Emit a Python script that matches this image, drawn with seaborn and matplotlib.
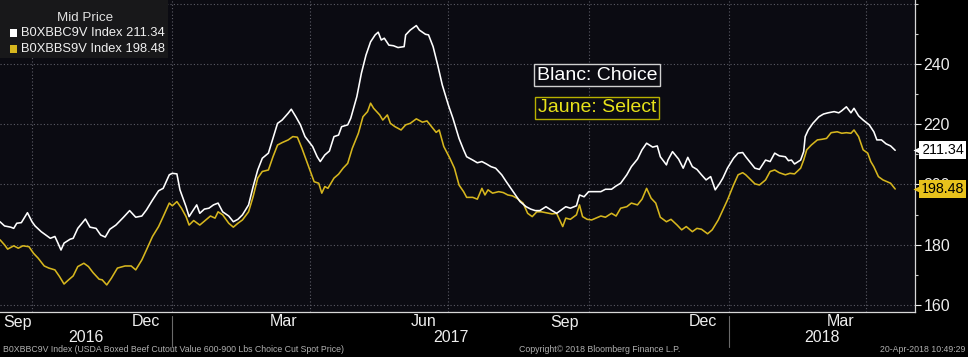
import matplotlib
matplotlib.use("Agg")
import matplotlib.pyplot as plt
import matplotlib.dates as mdates
import matplotlib.transforms as mtrans
from matplotlib.patches import Rectangle
import pandas as pd
import seaborn as sns

# ---------------- data ----------------
choice_dates = [
    "2016-09-10", "2016-09-13", "2016-09-17", "2016-09-19", "2016-09-21", "2016-09-24", "2016-09-28",
    "2016-10-01", "2016-10-03", "2016-10-07", "2016-10-10", "2016-10-13", "2016-10-16", "2016-10-18",
    "2016-10-20", "2016-10-22", "2016-10-26", "2016-10-28", "2016-10-31", "2016-11-05", "2016-11-08",
    "2016-11-12", "2016-11-15", "2016-11-18", "2016-11-21", "2016-11-25", "2016-11-30", "2016-12-04",
    "2016-12-06", "2016-12-08", "2016-12-12", "2016-12-15", "2016-12-19", "2016-12-23", "2016-12-26",
    "2016-12-30", "2017-01-01", "2017-01-04", "2017-01-06", "2017-01-10", "2017-01-12", "2017-01-14",
    "2017-01-17", "2017-01-19", "2017-01-22", "2017-01-25", "2017-01-28", "2017-01-31", "2017-02-03",
    "2017-02-07", "2017-02-10", "2017-02-13", "2017-02-16", "2017-02-20", "2017-02-23", "2017-02-26",
    "2017-03-01", "2017-03-05", "2017-03-08", "2017-03-11", "2017-03-14", "2017-03-18", "2017-03-20",
    "2017-03-23", "2017-03-26", "2017-03-29", "2017-04-03", "2017-04-06", "2017-04-08", "2017-04-11",
    "2017-04-14", "2017-04-17", "2017-04-20", "2017-04-22", "2017-04-26", "2017-04-28", "2017-05-02",
    "2017-05-05", "2017-05-08", "2017-05-11", "2017-05-14", "2017-05-16", "2017-05-18", "2017-05-20",
    "2017-05-23", "2017-05-26", "2017-05-29", "2017-06-02", "2017-06-03", "2017-06-06", "2017-06-10",
    "2017-06-12", "2017-06-16", "2017-06-18", "2017-06-21", "2017-06-24", "2017-06-27", "2017-07-01",
    "2017-07-04", "2017-07-08", "2017-07-11", "2017-07-13", "2017-07-17", "2017-07-20", "2017-07-23",
    "2017-07-26", "2017-07-29", "2017-08-01", "2017-08-05", "2017-08-08", "2017-08-11", "2017-08-14",
    "2017-08-17", "2017-08-21", "2017-08-24", "2017-08-27", "2017-08-30", "2017-09-03", "2017-09-07",
    "2017-09-10", "2017-09-13", "2017-09-16", "2017-09-19", "2017-09-23", "2017-09-25", "2017-09-28",
    "2017-10-01", "2017-10-04", "2017-10-09", "2017-10-12", "2017-10-16", "2017-10-19", "2017-10-22",
    "2017-10-26", "2017-10-29", "2017-11-02", "2017-11-05", "2017-11-08", "2017-11-12", "2017-11-15",
    "2017-11-17", "2017-11-21", "2017-11-22", "2017-11-25", "2017-11-29", "2017-12-02", "2017-12-05",
    "2017-12-08", "2017-12-11", "2017-12-14", "2017-12-17", "2017-12-20", "2017-12-23", "2017-12-26",
    "2017-12-28", "2017-12-31", "2018-01-04", "2018-01-07", "2018-01-10", "2018-01-12", "2018-01-18",
    "2018-01-21", "2018-01-25", "2018-01-28", "2018-01-31", "2018-02-03", "2018-02-07", "2018-02-09",
    "2018-02-11", "2018-02-13", "2018-02-17", "2018-02-19", "2018-02-20", "2018-02-22", "2018-02-25",
    "2018-03-01", "2018-03-04", "2018-03-07", "2018-03-11", "2018-03-14", "2018-03-16", "2018-03-19",
    "2018-03-22", "2018-03-24", "2018-03-27", "2018-03-30", "2018-04-03", "2018-04-06", "2018-04-08",
    "2018-04-11", "2018-04-14", "2018-04-17", "2018-04-20",
]
choice_values = [
    187.6, 186.2, 185.8, 185.4, 187.1, 187.3, 190.6,
    187.6, 186.2, 184.3, 183.2, 182.1, 182.7, 180.5,
    178.2, 180.5, 181.8, 182.1, 185.4, 188.5, 185.8,
    185.4, 183.2, 182.5, 185.1, 186.5, 189.1, 191.3,
    190.2, 189.1, 189.5, 191.5, 194.8, 197.9, 198.7,
    203.2, 203.7, 203.5, 198.2, 192.6, 189.3, 190.9,
    193.2, 190.4, 191.8, 192.1, 193.2, 193.8, 190.9,
    189.5, 187.6, 188.4, 189.9, 193.2, 199.3, 204.8,
    208.7, 210.4, 215.3, 220.3, 221.4, 223.7, 225.0,
    222.5, 219.8, 215.9, 212.6, 209.2, 207.6, 209.8,
    211.1, 215.9, 216.4, 219.2, 219.8, 222.0, 229.2,
    237.0, 243.0, 247.4, 249.7, 250.6, 248.0, 248.6,
    246.3, 246.1, 245.5, 245.8, 249.7, 251.3, 252.8,
    251.3, 249.9, 249.7, 245.8, 239.7, 233.1, 226.4,
    222.0, 215.3, 211.5, 209.2, 208.1, 207.2, 207.6,
    206.8, 205.9, 205.4, 203.2, 200.9, 198.7, 196.5,
    194.3, 192.6, 191.8, 191.3, 191.3, 192.6, 191.3,
    190.4, 191.5, 192.6, 192.1, 192.9, 196.5, 195.9,
    197.6, 197.6, 197.6, 198.4, 198.4, 199.5, 200.4,
    203.2, 205.9, 208.4, 211.5, 213.7, 212.4, 212.8,
    209.2, 206.5, 208.1, 210.9, 208.4, 205.4, 209.0,
    205.9, 205.0, 203.2, 201.5, 202.6, 198.2, 200.4,
    202.1, 205.4, 208.7, 210.4, 210.6, 209.2, 205.4,
    205.0, 208.1, 207.6, 210.4, 209.5, 209.2, 207.9,
    208.1, 206.8, 208.1, 210.9, 215.9, 218.1, 220.3,
    222.5, 223.4, 223.8, 224.2, 223.8, 224.5, 225.8,
    223.8, 225.3, 222.8, 221.4, 219.8, 217.5, 214.8,
    214.8, 213.5, 212.8, 211.34,
]

select_dates = [
    "2016-09-10", "2016-09-13", "2016-09-15", "2016-09-19", "2016-09-22", "2016-09-25", "2016-09-29",
    "2016-10-02", "2016-10-05", "2016-10-09", "2016-10-12", "2016-10-16", "2016-10-19", "2016-10-22",
    "2016-10-25", "2016-10-28", "2016-10-31", "2016-11-04", "2016-11-07", "2016-11-10", "2016-11-14",
    "2016-11-16", "2016-11-19", "2016-11-22", "2016-11-26", "2016-12-01", "2016-12-05", "2016-12-08",
    "2016-12-12", "2016-12-15", "2016-12-19", "2016-12-23", "2016-12-26", "2016-12-30", "2017-01-01",
    "2017-01-04", "2017-01-07", "2017-01-10", "2017-01-12", "2017-01-15", "2017-01-19", "2017-01-23",
    "2017-01-26", "2017-01-29", "2017-01-31", "2017-02-03", "2017-02-07", "2017-02-10", "2017-02-13",
    "2017-02-16", "2017-02-20", "2017-02-23", "2017-02-26", "2017-03-01", "2017-03-05", "2017-03-08",
    "2017-03-11", "2017-03-14", "2017-03-18", "2017-03-21", "2017-03-24", "2017-03-27", "2017-03-31",
    "2017-04-04", "2017-04-07", "2017-04-09", "2017-04-11", "2017-04-13", "2017-04-17", "2017-04-20",
    "2017-04-23", "2017-04-26", "2017-04-29", "2017-05-03", "2017-05-06", "2017-05-09", "2017-05-11",
    "2017-05-13", "2017-05-17", "2017-05-19", "2017-05-22", "2017-05-24", "2017-05-27", "2017-05-31",
    "2017-06-03", "2017-06-06", "2017-06-10", "2017-06-14", "2017-06-17", "2017-06-20", "2017-06-23",
    "2017-06-25", "2017-06-28", "2017-07-02", "2017-07-05", "2017-07-08", "2017-07-11", "2017-07-13",
    "2017-07-17", "2017-07-20", "2017-07-23", "2017-07-25", "2017-07-27", "2017-07-30", "2017-08-03",
    "2017-08-06", "2017-08-09", "2017-08-12", "2017-08-15", "2017-08-19", "2017-08-22", "2017-08-25",
    "2017-08-28", "2017-08-31", "2017-09-03", "2017-09-07", "2017-09-10", "2017-09-12", "2017-09-14",
    "2017-09-16", "2017-09-19", "2017-09-23", "2017-09-25", "2017-09-27", "2017-09-30", "2017-10-03",
    "2017-10-09", "2017-10-12", "2017-10-16", "2017-10-19", "2017-10-22", "2017-10-26", "2017-10-29",
    "2017-11-02", "2017-11-05", "2017-11-08", "2017-11-11", "2017-11-14", "2017-11-17", "2017-11-21",
    "2017-11-24", "2017-11-28", "2017-12-01", "2017-12-04", "2017-12-08", "2017-12-11", "2017-12-14",
    "2017-12-18", "2017-12-21", "2017-12-25", "2017-12-28", "2017-12-31", "2018-01-04", "2018-01-07",
    "2018-01-10", "2018-01-12", "2018-01-18", "2018-01-21", "2018-01-25", "2018-01-28", "2018-01-31",
    "2018-02-03", "2018-02-07", "2018-02-10", "2018-02-13", "2018-02-17", "2018-02-19", "2018-02-21",
    "2018-02-24", "2018-02-28", "2018-03-03", "2018-03-06", "2018-03-09", "2018-03-13", "2018-03-16",
    "2018-03-19", "2018-03-22", "2018-03-24", "2018-03-27", "2018-03-30", "2018-04-02", "2018-04-04",
    "2018-04-06", "2018-04-09", "2018-04-12", "2018-04-17", "2018-04-20",
]
select_values = [
    181.6, 179.9, 178.5, 179.6, 178.8, 179.6, 179.3,
    177.1, 175.5, 172.9, 172.2, 171.6, 169.4, 166.9,
    168.3, 169.6, 172.7, 173.8, 172.7, 170.7, 168.5,
    168.3, 166.6, 168.8, 172.2, 172.9, 172.9, 171.6,
    174.9, 178.2, 182.7, 186.0, 189.3, 193.8, 192.9,
    194.3, 192.1, 189.3, 186.5, 188.0, 186.5, 188.2,
    189.5, 188.8, 190.9, 189.9, 187.1, 185.8, 187.1,
    188.2, 190.9, 196.0, 202.1, 204.3, 204.8, 209.2,
    213.1, 213.9, 214.8, 215.9, 215.7, 212.0, 206.5,
    200.9, 200.4, 197.1, 199.3, 198.7, 202.1, 203.4,
    205.4, 207.0, 212.0, 217.0, 222.5, 224.2, 227.0,
    225.3, 223.1, 221.4, 223.1, 220.3, 219.2, 218.1,
    219.8, 220.3, 221.8, 220.7, 221.1, 219.2, 217.3,
    218.1, 212.6, 208.7, 205.4, 199.8, 197.6, 195.7,
    195.7, 195.1, 198.7, 196.5, 198.2, 197.1, 197.6,
    197.3, 196.5, 196.2, 195.4, 193.8, 190.4, 189.3,
    190.9, 190.9, 190.6, 190.2, 190.4, 188.2, 186.0,
    188.8, 188.4, 189.9, 193.2, 189.3, 188.4, 188.2,
    189.5, 189.1, 190.4, 189.5, 192.1, 192.6, 193.8,
    193.2, 195.1, 198.7, 195.4, 193.8, 189.1, 187.6,
    188.4, 186.5, 184.9, 186.0, 184.3, 185.4, 185.1,
    183.6, 184.9, 188.2, 191.5, 194.8, 199.8, 203.2,
    203.9, 203.2, 200.2, 199.8, 201.5, 204.3, 204.8,
    203.9, 203.2, 203.7, 203.5, 205.4, 208.1, 211.5,
    213.1, 214.8, 215.0, 215.3, 217.2, 217.5, 217.0,
    217.2, 217.0, 218.1, 215.9, 211.5, 210.4, 207.6,
    205.9, 202.6, 201.5, 200.4, 198.48,
]

legend_title = "Mid Price"
series_names = ["B0XBBC9V Index", "B0XBBS9V Index"]
y_ticks = [160, 180, 200, 220, 240]
month_labels = [("2016-09-15", "Sep"), ("2016-12-15", "Dec"), ("2017-03-15", "Mar"),
                ("2017-06-15", "Jun"), ("2017-09-15", "Sep"), ("2017-12-15", "Dec"),
                ("2018-03-15", "Mar")]
year_labels = ["2016", "2017", "2018"]
note_choice = "Blanc: Choice"
note_select = "Jaune: Select"
footer_left = "B0XBBC9V Index (USDA Boxed Beef Cutout Value 600-900 Lbs Choice Cut Spot Price)"
footer_mid = "Copyright\u00a9 2018 Bloomberg Finance L.P."
footer_right = "20-Apr-2018 10:49:29"

# ---------------- style ----------------
WHITE = "#ffffff"
YELLOW = "#d6b61e"
TAG_YELLOW = "#e8c21c"
NOTE_YELLOW = "#e8e21a"
GRID = "#5c5c66"
PLOT_BG = "#0b0b12"
TXT = "#eeeeee"

sns.set_style("dark")
plt.rcParams["font.family"] = ["Liberation Sans", "DejaVu Sans"]

df_c = pd.DataFrame({"date": pd.to_datetime(choice_dates), "value": choice_values})
df_s = pd.DataFrame({"date": pd.to_datetime(select_dates), "value": select_values})

W, H = 968, 357
fig = plt.figure(figsize=(W / 100, H / 100), dpi=100, facecolor="#000000")
ax_bottom = 312
ax_right = 915
ax = fig.add_axes([0, 1 - ax_bottom / H, ax_right / W, ax_bottom / H])
ax.set_facecolor(PLOT_BG)

sns.lineplot(data=df_s, x="date", y="value", color=YELLOW, lw=1.15, ax=ax, zorder=4)
sns.lineplot(data=df_c, x="date", y="value", color=WHITE, lw=1.15, ax=ax, zorder=5)

x0 = pd.Timestamp("2016-09-10")
x1 = pd.Timestamp("2018-05-03")
ax.set_xlim(x0, x1)
ax.set_ylim(157.6, 261.3)
ax.set_xlabel("")
ax.set_ylabel("")

# y axis on right
ax.yaxis.tick_right()
ax.set_yticks(y_ticks)
ax.set_yticks([170, 190, 210, 230, 250, 260], minor=True)
ax.tick_params(axis="y", which="major", colors=TXT, labelsize=11.5, length=4,
               width=0.8, pad=2, direction="out", right=True, left=False)
ax.tick_params(axis="y", which="minor", color="#cccccc", length=2.5, width=0.8,
               right=True, left=False)
ax.grid(False)
for v in y_ticks + [260]:
    ax.axhline(v, color=GRID, lw=0.8, ls=(0, (1, 2)), zorder=1)

# x axis: month ticks, quarter grid
quarters = pd.date_range("2016-10-01", "2018-04-01", freq="QS")
for q in quarters:
    ax.axvline(q, color=GRID, lw=0.8, ls=(0, (1, 2)), zorder=1)
ax.xaxis.set_major_locator(mdates.MonthLocator())
ax.xaxis.set_major_formatter(plt.NullFormatter())
ax.tick_params(axis="x", which="major", color="#bbbbbb", length=3, width=0.8, direction="out")

bt = mtrans.blended_transform_factory(ax.transData, ax.transAxes)
y_month = -(322 - ax_bottom) / ax_bottom
for i, (d, lab) in enumerate(month_labels):
    if i == 0:
        ax.text(x0 + pd.Timedelta(days=2), y_month, lab, transform=bt, ha="left", va="center",
                color=TXT, fontsize=11.5, clip_on=False)
    else:
        ax.text(pd.Timestamp(d), y_month, lab, transform=bt, ha="center", va="center",
                color=TXT, fontsize=11.5, clip_on=False)

for side in ["top", "left"]:
    ax.spines[side].set_visible(False)
for side in ["right", "bottom"]:
    ax.spines[side].set_visible(True)
    ax.spines[side].set_color("#d8d8d8")
    ax.spines[side].set_linewidth(0.9)

# year row
y_year = -(338 - ax_bottom) / ax_bottom
year_bounds = [x0, pd.Timestamp("2017-01-01"), pd.Timestamp("2018-01-01"), x1]
for i, yr in enumerate(year_labels):
    a, b = year_bounds[i], year_bounds[i + 1]
    mid = a + (b - a) / 2
    ax.text(mid, y_year, yr, transform=bt, ha="center", va="center", color=TXT,
            fontsize=11.5, clip_on=False)
for d in year_bounds[1:3]:
    ax.plot([d, d], [-(316 - ax_bottom) / ax_bottom, -(347 - ax_bottom) / ax_bottom],
            transform=bt, color="#6a6a6a", lw=0.8, clip_on=False)

# value tags on right axis
blend = mtrans.blended_transform_factory(ax.transAxes, ax.transData)
for val, fc in [(choice_values[-1], WHITE), (select_values[-1], TAG_YELLOW)]:
    ax.text(1.0065, val, f"{val:.2f}", transform=blend, ha="left", va="center",
            fontsize=10.3, color="#000000", clip_on=False, zorder=20,
            bbox=dict(boxstyle="square,pad=0.15", fc=fc, ec="none"))
    ax.plot([1.003], [val], marker="<", ms=7, color=fc, mec="none",
            transform=blend, clip_on=False, zorder=20)

# notes in plot
ax.text(597 / ax_right, 1 - 75 / ax_bottom, note_choice, transform=ax.transAxes,
        ha="center", va="center", fontsize=14, color=WHITE, zorder=10,
        bbox=dict(boxstyle="square,pad=0.12", fc=PLOT_BG, ec="#d0d0d0", lw=1))
ax.text(597 / ax_right, 1 - 108 / ax_bottom, note_select, transform=ax.transAxes,
        ha="center", va="center", fontsize=14, color=NOTE_YELLOW, zorder=10,
        bbox=dict(boxstyle="square,pad=0.12", fc=PLOT_BG, ec="#b8b000", lw=1))

# legend panel
fig.patches.append(Rectangle((0, 1 - 58 / H), 168 / W, 58 / H, transform=fig.transFigure,
                             facecolor="#18181a", edgecolor="none", zorder=2))
fig.text(85 / W, 1 - 18 / H, legend_title, ha="center", va="center", color="#e0e0e0",
         fontsize=9.6, zorder=5)
entries = [(series_names[0], choice_values[-1], WHITE, 33),
           (series_names[1], select_values[-1], YELLOW, 49)]
for name, val, col, ypx in entries:
    fig.patches.append(Rectangle((10 / W, 1 - (ypx + 3.5) / H), 7 / W, 7 / H,
                                 transform=fig.transFigure, facecolor=col,
                                 edgecolor="none", zorder=3))
    fig.text(21 / W, 1 - ypx / H, f"{name} {val:.2f}", ha="left", va="center",
             color="#f0f0f0", fontsize=9.3, zorder=5)

# footer
fig.text(3 / W, 1 - 350 / H, footer_left, ha="left", va="center", color="#b0b0b0",
         fontsize=6.3)
fig.text(600 / W, 1 - 350 / H, footer_mid, ha="center", va="center", color="#b0b0b0",
         fontsize=6.3)
fig.text(965 / W, 1 - 350 / H, footer_right, ha="right", va="center", color="#b0b0b0",
         fontsize=6.3)

fig.savefig("out.png", dpi=100, facecolor=fig.get_facecolor())
